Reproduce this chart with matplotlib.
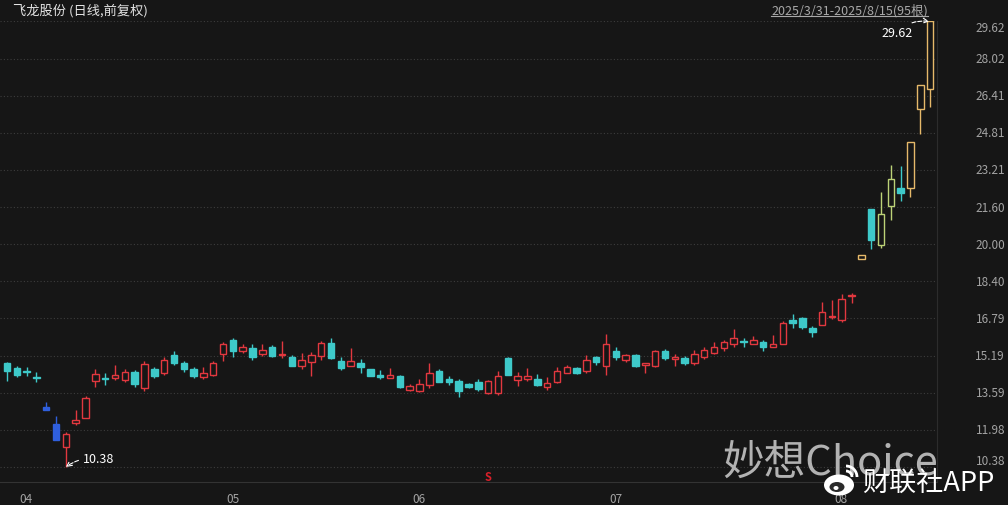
import numpy as np
import matplotlib
matplotlib.use("Agg")
import matplotlib.pyplot as plt
import matplotlib.transforms as mtransforms
from matplotlib.patches import Ellipse, Arc

plt.rcParams['font.family'] = ['Noto Sans CJK SC', 'DejaVu Sans']

# ---------------- data ----------------
opens = [14.86, 14.65, 14.52, 14.27, 12.95, 12.23, 11.23, 12.30, 12.49, 14.10,
         14.24, 14.22, 14.14, 14.49, 13.79, 14.60, 14.46, 15.21, 14.89, 14.63,
         14.25, 14.36, 15.28, 15.87, 15.39, 15.50, 15.25, 15.54, 15.21, 15.11,
         14.75, 14.92, 15.18, 15.72, 14.94, 14.75, 14.85, 14.63, 14.35, 14.23,
         14.29, 13.71, 13.67, 13.93, 14.53, 14.20, 14.10, 13.96, 13.74, 14.10,
         13.57, 15.08, 14.14, 14.17, 14.20, 13.82, 14.06, 14.46, 14.65, 14.53,
         15.15, 14.72, 15.37, 14.98, 15.21, 14.79, 14.72, 15.39, 15.04, 15.08,
         14.86, 15.13, 15.32, 15.50, 15.68, 15.80, 15.71, 15.78, 15.57, 15.71,
         16.71, 16.80, 16.40, 16.51, 16.85, 16.73, 17.77, 19.36, 21.51, 19.96,
         21.67, 22.42, 22.43, 25.85, 26.70]
highs = [14.91, 14.75, 14.70, 14.50, 13.19, 12.59, 11.90, 12.84, 13.45, 14.63,
         14.46, 14.79, 14.63, 14.56, 14.96, 14.68, 15.15, 15.37, 14.96, 14.70,
         14.68, 14.96, 15.78, 15.97, 15.71, 15.68, 15.71, 15.64, 15.80, 15.22,
         15.32, 15.35, 15.82, 15.97, 15.11, 15.51, 15.04, 14.63, 14.56, 14.65,
         14.36, 13.96, 14.20, 14.89, 14.60, 14.32, 14.17, 14.00, 14.17, 14.13,
         14.53, 15.15, 14.50, 14.65, 14.40, 14.25, 14.68, 14.79, 14.68, 15.21,
         15.18, 16.11, 15.58, 15.28, 15.28, 14.89, 15.44, 15.47, 15.25, 15.18,
         15.44, 15.55, 15.78, 15.87, 16.33, 15.97, 16.04, 15.87, 16.07, 16.69,
         16.97, 16.85, 16.45, 17.50, 17.59, 17.84, 17.91, 19.54, 21.51, 22.25,
         23.41, 23.37, 24.40, 26.86, 29.62]
lows = [14.09, 14.26, 14.29, 14.07, 12.83, 11.55, 10.38, 12.19, 12.49, 13.84,
        13.93, 14.14, 14.07, 13.84, 13.67, 14.22, 14.36, 14.79, 14.49, 14.22,
        14.17, 14.29, 14.96, 15.15, 15.32, 14.99, 15.18, 15.13, 15.08, 14.72,
        14.63, 14.32, 14.99, 15.04, 14.57, 14.72, 14.43, 14.29, 14.17, 14.21,
        13.77, 13.67, 13.63, 13.79, 14.03, 13.93, 13.41, 13.80, 13.67, 13.53,
        13.48, 14.36, 13.88, 14.10, 13.88, 13.71, 14.00, 14.42, 14.40, 14.43,
        14.78, 14.36, 14.99, 14.92, 14.68, 14.46, 14.68, 14.99, 14.75, 14.79,
        14.79, 15.04, 15.25, 15.39, 15.57, 15.57, 15.68, 15.39, 15.55, 15.71,
        16.40, 16.33, 16.00, 16.51, 16.76, 16.64, 17.48, 19.36, 19.81, 19.85,
        21.03, 21.86, 22.03, 24.76, 25.93]
closes = [14.52, 14.35, 14.48, 14.23, 12.83, 11.55, 11.80, 12.42, 13.34, 14.39,
          14.20, 14.35, 14.49, 13.96, 14.82, 14.29, 14.99, 14.89, 14.60, 14.32,
          14.43, 14.86, 15.68, 15.39, 15.54, 15.13, 15.44, 15.18, 15.28, 14.75,
          15.00, 15.21, 15.72, 15.07, 14.65, 14.96, 14.68, 14.32, 14.28, 14.35,
          13.84, 13.86, 13.96, 14.46, 14.06, 14.06, 13.67, 13.84, 14.06, 13.57,
          14.29, 14.36, 14.29, 14.32, 13.93, 14.00, 14.53, 14.68, 14.43, 15.00,
          14.92, 15.68, 15.13, 15.21, 14.72, 14.86, 15.37, 15.08, 15.13, 14.89,
          15.25, 15.42, 15.58, 15.78, 15.97, 15.78, 15.85, 15.57, 15.68, 16.59,
          16.61, 16.43, 16.19, 17.09, 16.88, 17.65, 17.79, 19.54, 20.18, 21.29,
          22.82, 22.22, 24.40, 26.86, 29.62]
# candle style: r = up (hollow red), c = down (filled cyan), b = limit-down (filled blue),
# y = limit-up (hollow gold), g = hollow yellow-green
styles = list("ccccbbrrrr" "crrcrcrccc" "rrrcrcrcrc" "rrrccrcccr" "crrrcccccr"
              "rcrrcrrrcr" "crcrcrrcrc" "rrrrrcrcrr" "cccrrrryc" "g" "gcyyy")

months_idx = [1, 22, 41, 61, 84]
months_lbl = ["04", "05", "06", "07", "08"]
signal_idx = 49

title = "飞龙股份 (日线,前复权)"
range_txt = "2025/3/31-2025/8/15(95根)"

# ---------------- style ----------------
BG = "#161616"
COLORS = {"r": "#e2383f", "c": "#3ec9c9", "b": "#2f5fdd", "y": "#e6b96a", "g": "#bcd277"}
HOLLOW = {"r": True, "c": False, "b": False, "y": True, "g": True}
GRID = "#3d3d3d"
LABEL = "#a3a3a3"

W, H = 1008, 506
fig = plt.figure(figsize=(W / 100, H / 100), dpi=100, facecolor=BG)
ax_left, ax_right, ax_top, ax_bot = 0, 937, 22, 483
ax = fig.add_axes([ax_left / W, (H - ax_bot) / H, (ax_right - ax_left) / W, (ax_bot - ax_top) / H])
ax.set_facecolor(BG)

o = np.array(opens); h = np.array(highs); l = np.array(lows); c = np.array(closes)
n = len(o)
x = np.arange(n)

lo, hi = l.min(), h.max()
span = hi - lo
ax.set_ylim(lo - span * 0.0337, hi + span * 0.001)
ax.set_xlim(-0.71, n - 0.3)

ticks = np.linspace(lo, hi, 13)
ax.set_yticks(ticks)
ax.set_yticklabels([])
ax.tick_params(axis="y", length=0)
ax.set_xticks([])
ax.yaxis.grid(True, linestyle=(0, (1, 2)), color=GRID, linewidth=0.8)
ax.set_axisbelow(True)
for s in ["left", "top"]:
    ax.spines[s].set_visible(False)
ax.spines["bottom"].set_color("#333333")
ax.spines["right"].set_color("#2c2c2c")

bw = 0.66
for i in range(n):
    st = styles[i]
    col = COLORS[st]
    top, bot = max(o[i], c[i]), min(o[i], c[i])
    if HOLLOW[st]:
        ax.vlines(x[i], top, h[i], color=col, lw=1, zorder=2)
        ax.vlines(x[i], l[i], bot, color=col, lw=1, zorder=2)
        ax.bar(x[i], top - bot, bottom=bot, width=bw, facecolor=BG, edgecolor=col, lw=1, zorder=3)
    else:
        ax.vlines(x[i], l[i], h[i], color=col, lw=1, zorder=2)
        ax.bar(x[i], top - bot, bottom=bot, width=bw, facecolor=col, edgecolor=col, lw=1, zorder=3)

# right-side price labels
tr = mtransforms.blended_transform_factory(ax.transAxes, ax.transData)
xr = (1005 - ax_left) / (ax_right - ax_left)
for k, v in enumerate(ticks):
    va = "center"
    if k == len(ticks) - 1:
        va = "top"
    elif k == 0:
        va = "bottom"
    ax.text(xr, v, f"{v:.2f}", transform=tr, ha="right", va=va, color=LABEL,
            fontsize=8.5, clip_on=False)

# month labels
trx = mtransforms.blended_transform_factory(ax.transData, ax.transAxes)
for mi, ml in zip(months_idx, months_lbl):
    ax.text(mi + 0.3, -0.022, ml, transform=trx, ha="left", va="top", color=LABEL,
            fontsize=8.5, clip_on=False)

# signal marker
ax.text(signal_idx, 0.012, "S", transform=trx, ha="center", va="center", color="#d8202a",
        fontsize=8, fontweight="bold", clip_on=False, zorder=5)

# max / min annotations
imax = int(np.argmax(h)); imin = int(np.argmin(l))
ax.annotate(f"{h[imax]:.2f}", xy=(x[imax] - 0.1, h[imax]), xytext=(-12, -8),
            textcoords="offset points", ha="right", va="center", color="white", fontsize=9,
            arrowprops=dict(arrowstyle="->", color="white", lw=0.8, linestyle="--",
                            connectionstyle="arc3,rad=-0.25", shrinkA=1, shrinkB=0),
            annotation_clip=False, zorder=6)
ax.annotate(f"{l[imin]:.2f}", xy=(x[imin], l[imin]), xytext=(12, 6),
            textcoords="offset points", ha="left", va="center", color="white", fontsize=9,
            arrowprops=dict(arrowstyle="->", color="white", lw=0.8, linestyle="--",
                            connectionstyle="arc3,rad=0.2", shrinkA=1, shrinkB=0),
            annotation_clip=False, zorder=6)

# ---------------- overlay (titles, watermark) ----------------
ov = fig.add_axes([0, 0, 1, 1], facecolor="none")
ov.set_xlim(0, W); ov.set_ylim(H, 0); ov.axis("off")

ov.text(13, 11, title, ha="left", va="center", color="#e4e4e4", fontsize=9.5)
rt = ov.text(928, 11, range_txt, ha="right", va="center", color="#a8a8a8", fontsize=9)
fig.canvas.draw()
bb = rt.get_window_extent(fig.canvas.get_renderer())
ov.plot([bb.x0, bb.x1], [H - bb.y0 - 1, H - bb.y0 - 1], color="#a8a8a8", lw=0.8,
        transform=ov.transData)

ov.text(722, 463, "妙想Choice", ha="left", va="center", color="#c4c4c4", alpha=0.9,
        fontsize=30, fontweight="light")

# weibo-like icon + label
ov.add_patch(Ellipse((839, 486), 30, 21, facecolor="white", edgecolor="none", zorder=5))
ov.add_patch(Ellipse((837, 488), 15, 10, facecolor="#2a2a2a", edgecolor="none", zorder=6))
ov.add_patch(Ellipse((836, 489), 5, 4, facecolor="white", edgecolor="none", zorder=7))
ov.add_patch(Arc((846, 478), 12, 12, theta1=270, theta2=360, color="white", lw=2, zorder=5))
ov.add_patch(Arc((846, 478), 22, 22, theta1=270, theta2=360, color="white", lw=2, zorder=5))
ov.text(862, 484, "财联社APP", ha="left", va="center", color="white", fontsize=19.5, zorder=8)

fig.savefig("out.png", dpi=100, facecolor=BG)
